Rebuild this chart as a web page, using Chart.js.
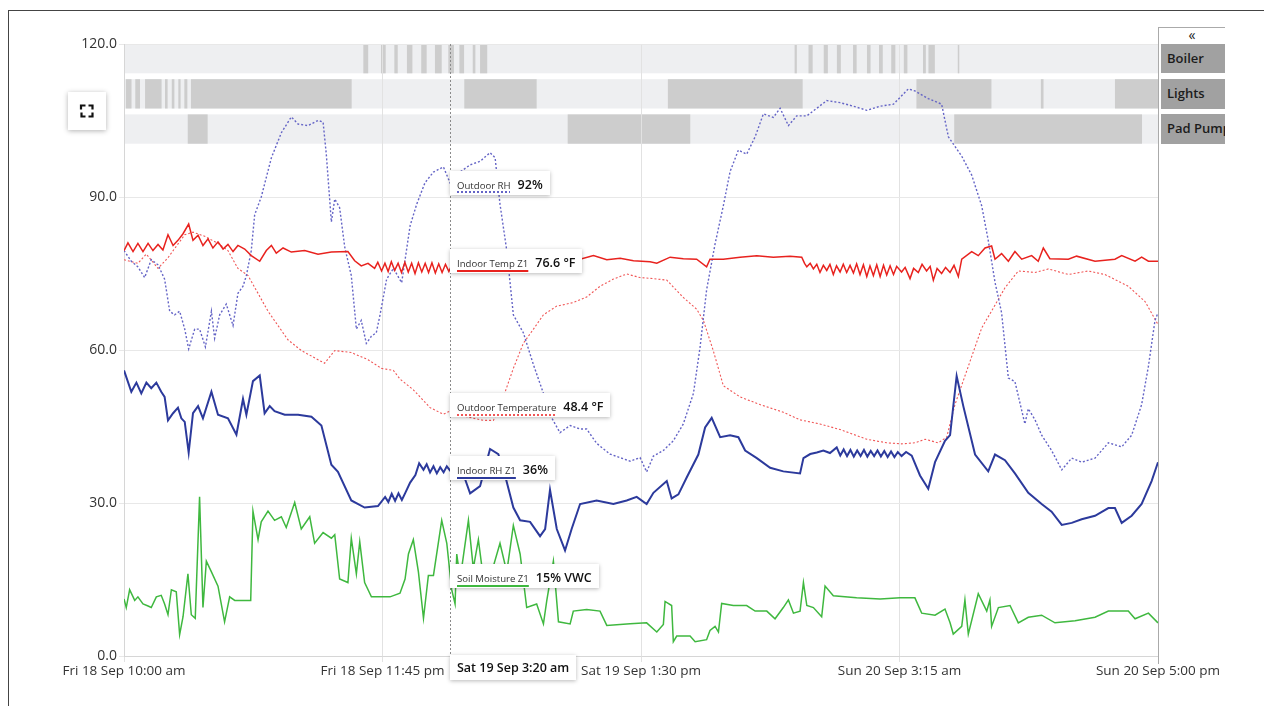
<!DOCTYPE html>
<html>
<head>
<meta charset="utf-8">
<script src="https://cdn.jsdelivr.net/npm/chart.js@4.4.0/dist/chart.umd.min.js"></script>
<style>
  html, body { margin: 0; padding: 0; background: #fff; width: 1264px; height: 706px; overflow: hidden; font-family: "Open Sans", sans-serif; }
  #frame { position: absolute; left: 8px; top: 10px; width: 1300px; height: 800px; border-left: 1px solid #444; border-top: 1px solid #444; }
  #chart { position: absolute; left: 0; top: 0; }
  .tip { position: absolute; background: #fff; box-shadow: 0 1px 4px rgba(0,0,0,0.28); height: 24px; line-height: 24px; padding: 0 7px 0 7px; white-space: nowrap; color: #111; }
  .tip .nm { font-size: 9.6px; color: #333; text-decoration-line: underline; text-decoration-thickness: 2px; text-underline-offset: 3px; margin-right: 7px; }
  .tip .val { font-size: 12.5px; font-weight: 600; }
  #timebox { position: absolute; background: #fff; box-shadow: 0 1px 4px rgba(0,0,0,0.28); height: 25px; line-height: 25px; padding: 0 7px; font-size: 12.5px; font-weight: 600; color: #111; white-space: nowrap; }
  #panel { position: absolute; left: 1158px; top: 27px; width: 66px; height: 636px; border-left: 1px solid #aaa; border-top: 1px solid #aaa; background: #fff; overflow: hidden; }
  #panel .hd { position: absolute; left: 0; top: 0; width: 66px; height: 16px; text-align: center; font-size: 14px; line-height: 13px; color: #222; }
  #panel .row { position: absolute; left: 2px; width: 64px; background: #a1a1a1; font-size: 13px; font-weight: 600; color: #1c1c1c; padding-left: 6px; box-sizing: border-box; white-space: nowrap; overflow: hidden; }
  #expand { position: absolute; left: 68px; top: 92px; width: 38px; height: 38px; background: #fff; box-shadow: 0 1px 5px rgba(0,0,0,0.3); }
</style>
</head>
<body>
<div id="frame"></div>
<canvas id="chart" width="1264" height="706"></canvas>
<div id="expand"><svg width="38" height="38"><path d="M13 17.5V13.5H17.5M20.5 13.5H24.5V17.5M24.5 20.5V24.5H20.5M17.5 24.5H13.5V20.5" fill="none" stroke="#111" stroke-width="2.2"/></svg></div>
<div id="panel"><div class="hd">«</div></div>
<script>
// time axis in hours after Fri 18 Sep 10:00 am
const tickHours = [0, 13.75, 27.5, 41.25, 55];
const tickLabels = ["Fri 18 Sep 10:00 am", "Fri 18 Sep 11:45 pm", "Sat 19 Sep 1:30 pm", "Sun 20 Sep 3:15 am", "Sun 20 Sep 5:00 pm"];

const indoorTemp = [[0,79.5],[0.21,81],[0.48,79.3],[0.74,80.9],[1.01,79.3],[1.28,80.9],[1.54,79.5],[1.81,80.7],[2.07,79.6],[2.34,82.6],[2.61,80.5],[2.87,81.5],[3.14,82.8],[3.44,84.7],[3.67,81.5],[3.94,82.5],[4.2,80.5],[4.47,81.8],[4.73,80],[5.0,81.2],[5.27,79.8],[5.53,80.7],[5.8,79.3],[6.06,80.5],[6.42,79.8],[6.77,78.5],[7.22,77.4],[7.57,79.5],[7.84,80.5],[8.1,79],[8.46,80],[8.9,79.2],[9.61,79.5],[10.32,78.8],[11.03,79.2],[11.91,79.3],[12.27,77.5],[12.62,76.5],[12.98,77],
  [13.33,76],[13.5,77.2],[13.7,75.5],[13.88,77],[14.05,75.4],[14.22,77.3],[14.4,75.6],[14.58,77],[14.76,75.2],[14.94,77.2],[15.12,75.3],[15.3,77],[15.48,75],[15.66,77.1],[15.84,75.3],[16.02,77],[16.2,75.2],[16.38,77.1],[16.56,75.1],[16.74,76.9],[16.92,75.2],[17.1,76.8],[17.28,75.4],[17.43,76.6],
  [18.94,77],[20.71,77.5],[21.95,77.8],[22.84,77.6],[23.55,78],[24.26,77.8],[24.97,78.5],[25.68,77.7],[26.39,78],[27.1,77.5],[27.98,77.3],
  [28.34,77],[29.05,78.2],[29.75,77.9],[30.46,77.8],[30.99,76.3],[31.17,77.8],[31.88,77.8],[32.77,78.2],[33.66,78.5],[34.54,78.2],[35.43,78.4],
  [36.05,78.2],[36.2,77],[36.32,76.3],[36.5,77],[36.67,75.9],[36.85,76.8],[37.02,75.2],[37.2,76.6],[37.38,75.6],[37.55,76.8],[37.73,74.8],[37.9,76.5],[38.09,75.3],[38.26,76.8],[38.44,75.2],[38.62,76.6],[38.8,75.1],[38.97,76.9],[39.15,74.8],[39.33,76.7],[39.51,74.4],[39.68,76.5],[39.86,74.6],[40.04,76.7],[40.22,74.4],[40.4,76.6],[40.57,74.7],[40.75,76.5],[40.93,74.8],[41.1,76.4],[41.36,75.3],[41.55,76.2],[41.81,74],[42.0,76],[42.25,75.2],[42.45,76.8],[42.69,75.5],[42.88,76.4],[43.05,73.7],[43.25,76],[43.49,75],[43.7,76.2],[43.94,75.2],[44.15,76.6],[44.38,74.4],
  [44.56,77.8],[45.09,79.3],[45.44,78.5],[45.8,80],[46.15,80.4],[46.33,77.8],[46.68,78.9],[47.04,77.4],[47.39,79.3],[47.75,77.8],[48.28,78.5],[48.63,77.4],[48.9,80],[49.25,77.9],[50.23,77.8],[50.67,78.4],[51.65,77.4],[52.71,77.8],[53.07,78.5],[53.78,77.4],[54.13,78.2],[54.49,77.4],[55,77.4]];

const outdoorTemp = [[0,77.7],[0.74,77],[1.19,78.8],[1.81,76],[2.34,78.1],[3.23,82.6],[3.67,83.1],[4.29,82.3],[5.0,80.9],[5.53,79.5],[6.06,76],[6.6,74.6],[7.13,71.1],[7.66,67.6],[8.19,64.8],[8.72,62],[9.43,59.9],[10.32,58.1],[10.67,57.4],[11.21,59.9],[12.09,59.5],[12.98,58.1],[13.69,56.4],[14.33,56],[14.68,54.3],[15.39,52.2],[16.28,48.7],[16.99,47.4],[17.43,48.2],[18.23,46.9],[19.12,46.2],[19.65,46.2],[20.18,50.8],[20.71,56.4],[21.24,61.3],[21.78,64.1],[22.31,66.9],[23.02,68.6],[23.9,69.3],[24.61,70.4],[25.32,72.5],[26.03,73.9],[26.74,74.9],[27.45,74.2],[28.16,74],[28.87,73.7],[29.75,70.3],[30.46,68],[30.82,65.8],[31.35,59.8],[31.88,53],[32.77,50.8],[33.83,49.3],[35.07,47.8],[35.96,46.3],[37.02,45.5],[38.09,44.4],[39.51,42.5],[40.57,41.8],[41.36,41.6],[42.07,41.8],[42.61,42.5],[43.31,41.8],[43.76,42.9],[44.2,49.3],[44.91,56.8],[45.62,64.3],[46.33,68.8],[46.86,72.2],[47.57,75.5],[48.46,75.2],[49.17,75.9],[50.23,74.8],[51.29,75.5],[52.18,74.8],[53.42,72.5],[54.31,69.5],[55,65]];

const outdoorRH = [[0,79.5],[0.39,77.4],[0.74,76.3],[1.1,74.2],[1.45,77.7],[1.81,76.7],[2.16,73.9],[2.43,67.6],[2.69,66.9],[2.96,67.6],[3.23,64.1],[3.44,60.2],[3.76,64.1],[4.02,64.1],[4.33,60.6],[4.65,67.6],[4.82,62.3],[5.09,66.9],[5.44,69],[5.8,64.8],[6.06,71.1],[6.33,72.5],[6.51,74.6],[6.77,79.5],[6.95,86.5],[7.3,90],[7.84,97.7],[8.37,102.6],[8.9,105.7],[9.26,104.3],[9.79,104],[10.32,105],[10.59,104.7],[10.76,98.4],[11.03,85.1],[11.21,89.6],[11.47,87.9],[11.74,80.2],[12.09,74.6],[12.36,64.1],[12.62,65.8],[12.89,61.3],[13.16,62.7],[13.42,63.4],[13.62,66.9],[13.97,73.9],[14.33,76],[14.77,73.2],[15.22,84.4],[15.57,88.6],[16.01,92.8],[16.46,94.9],[16.99,95.9],[17.34,92.8],[17.88,94.9],[18.41,96.3],[18.94,97],[19.47,98.7],[19.74,97.7],[20.0,88.6],[20.36,79.5],[20.71,66.9],[21.24,63.4],[21.78,57.1],[22.31,51.5],[22.66,47.3],[23.19,43.8],[23.73,45.2],[24.26,44.5],[24.61,44.5],[25.14,41.7],[25.85,39.6],[26.39,38.9],[26.92,38.2],[27.45,38.9],[27.8,36.1],[28.16,39.2],[28.69,40.3],[29.22,42.2],[29.75,45.5],[30.29,51.5],[30.64,60.5],[30.99,71.8],[31.44,80.8],[31.88,88.3],[32.24,95],[32.68,99.2],[33.12,98.4],[33.57,101.8],[34.01,106.3],[34.54,105.6],[34.9,107.4],[35.34,104],[35.78,105.9],[36.32,105.9],[36.85,107.4],[37.38,108.9],[38.09,108.5],[38.8,107.8],[39.51,107],[40.22,107.8],[40.93,108.2],[41.72,111.2],[42.07,110.8],[42.78,109.3],[43.49,108.2],[43.85,101.8],[44.56,98],[45.09,94.3],[45.62,88.3],[45.97,81.5],[46.33,73.3],[46.68,67.3],[47.04,54.5],[47.39,53.8],[47.92,45.5],[48.1,48.5],[48.46,46.3],[48.81,43.3],[49.34,40.3],[49.88,36.5],[50.41,38.8],[50.94,38],[51.65,38.8],[52.36,41.8],[53.07,41],[53.6,43.3],[54.13,49.3],[54.49,56.8],[54.84,65.8],[55,67.3]];

const indoorRH = [[0,56],[0.39,51.8],[0.66,53.6],[0.92,51.5],[1.19,53.6],[1.45,52.5],[1.72,53.6],[1.98,51.8],[2.16,50.8],[2.34,46.2],[2.61,47.6],[2.87,48.7],[3.05,46.6],[3.23,45.9],[3.44,39.9],[3.67,47.6],[3.94,49],[4.2,46.6],[4.65,51.8],[5.0,47.3],[5.53,46.6],[5.98,43.4],[6.33,50.4],[6.51,47.3],[6.86,53.9],[7.22,55],[7.48,47.6],[7.75,49],[8.01,48],[8.55,47.3],[9.26,47.3],[9.97,46.9],[10.5,45.2],[11.03,37.5],[11.38,36.1],[12.09,30.5],[12.8,29.1],[13.51,29.4],
  [13.89,31.2],[14.06,30.2],[14.24,31.8],[14.42,30.4],[14.6,31.9],[14.78,30.6],[14.95,31.9],[15.22,34],[15.5,35.5],[15.7,37.8],[15.93,36.5],[16.1,37.6],[16.28,36],[16.46,37.2],[16.64,35.8],[16.82,37],[17.0,36],[17.17,37.2],[17.34,36.4],
  [17.88,37.5],[18.14,34.7],[18.41,31.9],[18.94,33.3],[19.47,40.6],[19.91,39.6],[20.27,35.4],[20.71,29.1],[21.07,26.6],[21.6,26.3],[22.13,23.5],[22.4,24.9],[22.66,32.6],[23.02,24.9],[23.46,20.7],[23.81,24.9],[24.26,29.8],[25.14,30.5],[26.03,29.8],[26.74,30.5],[27.27,31.2],[27.8,29.8],[28.16,32],[28.87,34.3],[29.13,30.9],[29.49,31.7],[29.93,35],[30.55,39.5],[30.91,44.8],[31.26,46.7],[31.71,42.9],[32.24,43.3],[32.68,42.9],[33.04,40.3],[33.66,38.8],[34.37,36.9],[35.07,36.2],[35.96,35.8],
  [36.14,38.8],[36.5,39.6],[36.85,39.9],[37.2,40.3],[37.55,39.8],[37.91,40.9],[38.1,39.3],[38.28,40.5],[38.46,39.2],[38.64,40.4],[38.82,39.1],[39.0,40.3],[39.18,39.2],[39.36,40.4],[39.54,39.1],[39.72,40.2],[39.9,39.2],[40.08,40.3],[40.26,39.1],[40.44,40.2],[40.62,39],[40.8,40.1],[40.98,39],[41.16,40],[41.36,39.2],[41.6,40],[41.9,39.3],
  [42.34,35.4],[42.78,32.8],[43.14,38],[43.67,42.2],[43.94,43.3],[44.29,54.9],[44.65,48.9],[45.27,39.5],[45.97,36.2],[46.33,39.5],[46.86,38.4],[47.39,35.8],[48.1,32],[48.81,29.8],[49.34,28.3],[49.88,25.7],[50.41,26.1],[50.94,26.8],[51.65,27.5],[52.36,29],[52.71,29],[53.07,26.1],[53.6,27.5],[54.13,29.8],[54.66,34.3],[55,38]];

const soilMoisture = [[0,11.2],[0.12,9.5],[0.3,13],[0.57,10.9],[0.74,11.6],[1.01,10.2],[1.28,9.8],[1.45,9.5],[1.72,11.6],[1.98,11.9],[2.16,10.2],[2.34,8.1],[2.52,13],[2.78,12.6],[2.96,4.2],[3.14,7.7],[3.4,16.1],[3.58,8.1],[3.79,7.4],[4.02,31.2],[4.2,9.5],[4.38,18.6],[4.65,16.5],[5.0,13.7],[5.35,6.7],[5.62,11.6],[5.89,10.9],[6.74,10.9],[6.86,28.4],[7.13,22.8],[7.3,26.3],[7.66,28.4],[8.01,26.6],[8.37,27.3],[8.63,25.2],[9.08,30.1],[9.43,24.9],[9.88,27.3],[10.14,22.1],[10.59,24.2],[11.03,23.1],[11.21,23.8],[11.47,15.1],[11.91,14.4],[12.09,23.1],[12.36,16.1],[12.54,22.4],[12.8,14.4],[13.16,11.6],[13.69,11.6],[14.15,11.6],[14.68,12.3],[14.95,15.1],[15.13,20],[15.39,22.8],[15.66,16.5],[15.93,7.4],[16.19,15.8],[16.46,15.8],[16.9,26.6],[17.17,22.1],[17.43,13],[17.61,10.2],[17.7,20],[17.88,15.1],[18.32,26.6],[18.58,17.2],[18.85,22.8],[19.12,15.1],[19.56,16.5],[20.0,22.1],[20.36,16.5],[20.71,25.6],[21.07,20],[21.42,9.5],[21.95,10.2],[22.31,6.3],[22.49,10.9],[22.84,18.6],[23.11,6.7],[23.73,6.3],[23.9,8.8],[24.61,9.1],[25.32,8.8],[25.68,6],[26.92,6.3],[27.8,6.5],[28.34,4.7],[28.69,6.2],[28.78,10.7],[29.13,9.9],[29.22,2.8],[29.4,3.9],[30.11,3.9],[30.38,2.8],[30.99,3.2],[31.17,5],[31.44,5.8],[31.62,4.7],[31.79,10.3],[32.41,9.9],[33.12,9.9],[33.57,8.8],[34.19,8.8],[34.63,7.3],[35.07,9.5],[35.34,11],[35.61,8.4],[35.96,8.8],[36.14,14.4],[36.32,9.9],[36.67,9.5],[37.11,7.7],[37.29,13.7],[37.73,11.8],[38.97,11.4],[40.22,11.2],[41.28,11.4],[42.07,11.4],[42.43,8.4],[43.14,8],[43.67,9.2],[43.94,6.5],[44.11,4.3],[44.56,5.8],[44.73,11],[44.91,4.3],[45.44,12.2],[45.89,8.8],[46.06,11],[46.15,5.8],[46.51,9.5],[47.13,9.9],[47.57,6.5],[48.1,7.6],[48.81,8],[49.52,6.5],[50.59,6.9],[51.65,7.6],[52.36,8.8],[53.42,8.8],[53.78,7.3],[54.49,8.4],[55,6.5]];

// on/off periods (start hour, end hour)
const bandNames = ["Boiler", "Lights", "Pad Pump"];
const boilerOn = [[12.73,12.99],[13.67,13.92],[14.38,14.56],[15.05,15.34],[15.81,16.1],[16.54,16.9],[17.25,17.55],[17.84,18.09],[18.55,18.69],[18.94,19.32],[35.67,35.79],[36.41,36.63],[37.22,37.44],[37.92,38.13],[38.78,38.97],[39.52,39.71],[40.16,40.36],[40.81,41.03],[41.48,41.67],[42.5,42.65],[42.79,43.13],[44.35,44.42]];
const lightsOn = [[0.1,0.4],[0.6,0.85],[1.12,2.0],[2.18,2.32],[2.54,2.68],[2.89,3.01],[3.21,3.37],[3.56,12.11],[18.1,21.95],[28.93,36.1],[42.15,46.14],[48.77,48.91],[52.71,55]];
const padPumpOn = [[3.39,4.45],[23.6,30.12],[44.16,54.15]];

// cursor readout
const cursorHour = 17.333;
const cursorTime = "Sat 19 Sep 3:20 am";
const cursorNames = ["Outdoor RH", "Indoor Temp Z1", "Outdoor Temperature", "Indoor RH Z1", "Soil Moisture Z1"];
const cursorValues = [92, 76.6, 48.4, 36, 15];
const cursorUnits = ["%", " °F", " °F", "%", "% VWC"];

const bandOn = [boilerOn, lightsOn, padPumpOn];
const rowTop = [120, 113.1, 106.2];
const rowSpan = 5.75;

const lineStyles = {
  "Outdoor RH": { color: "#6464c6", width: 1.4, dash: [2, 2] },
  "Indoor Temp Z1": { color: "#e8221e", width: 1.5, dash: [] },
  "Outdoor Temperature": { color: "#f05656", width: 1.1, dash: [2, 2] },
  "Indoor RH Z1": { color: "#2c3a9c", width: 2, dash: [] },
  "Soil Moisture Z1": { color: "#3fb83f", width: 1.5, dash: [] }
};
const seriesData = {
  "Outdoor RH": outdoorRH,
  "Indoor Temp Z1": indoorTemp,
  "Outdoor Temperature": outdoorTemp,
  "Indoor RH Z1": indoorRH,
  "Soil Moisture Z1": soilMoisture
};

const bandPlugin = {
  id: "bands",
  beforeDraw(chart) {
    const { ctx, chartArea: a, scales: { x, y } } = chart;
    ctx.save();
    bandNames.forEach((name, i) => {
      const top = y.getPixelForValue(rowTop[i]);
      const bot = y.getPixelForValue(rowTop[i] - rowSpan);
      ctx.fillStyle = "#eeeff1";
      ctx.fillRect(a.left, top, a.right - a.left, bot - top);
      ctx.fillStyle = "#cdcdcd";
      bandOn[i].forEach(([s, e]) => {
        const x0 = x.getPixelForValue(s), x1 = x.getPixelForValue(e);
        ctx.fillRect(x0, top, Math.max(1.5, x1 - x0), bot - top);
      });
    });
    ctx.restore();
  }
};

const cursorPlugin = {
  id: "cursor",
  afterDatasetsDraw(chart) {
    const { ctx, chartArea: a, scales: { x } } = chart;
    const px = Math.round(x.getPixelForValue(cursorHour)) + 0.5;
    ctx.save();
    ctx.strokeStyle = "#8a8a8a";
    ctx.lineWidth = 1;
    ctx.setLineDash([2, 2]);
    ctx.beginPath();
    ctx.moveTo(px, a.top);
    ctx.lineTo(px, a.bottom + 4);
    ctx.stroke();
    ctx.restore();
  },
  afterRender(chart) {
    const { x, y } = chart.scales;
    const px = Math.round(x.getPixelForValue(cursorHour));
    document.querySelectorAll(".tip, #timebox").forEach(el => el.remove());
    cursorNames.forEach((name, i) => {
      const st = lineStyles[name];
      const tip = document.createElement("div");
      tip.className = "tip";
      tip.style.left = px + "px";
      tip.style.top = (y.getPixelForValue(cursorValues[i]) - 16) + "px";
      const nm = document.createElement("span");
      nm.className = "nm";
      nm.textContent = name;
      nm.style.textDecorationColor = st.color;
      nm.style.textDecorationStyle = st.dash.length ? "dotted" : "solid";
      const val = document.createElement("span");
      val.className = "val";
      val.textContent = cursorValues[i] + cursorUnits[i];
      tip.appendChild(nm);
      tip.appendChild(val);
      document.body.appendChild(tip);
    });
    const tb = document.createElement("div");
    tb.id = "timebox";
    tb.textContent = cursorTime;
    tb.style.left = px + "px";
    tb.style.top = (chart.chartArea.bottom - 1) + "px";
    document.body.appendChild(tb);

    const panel = document.getElementById("panel");
    panel.querySelectorAll(".row").forEach(el => el.remove());
    const panelTop = panel.getBoundingClientRect().top + 1;
    bandNames.forEach((name, i) => {
      const top = y.getPixelForValue(rowTop[i]);
      const bot = y.getPixelForValue(rowTop[i] - rowSpan);
      const r = document.createElement("div");
      r.className = "row";
      r.textContent = name;
      r.style.top = (top - panelTop) + "px";
      r.style.height = (bot - top) + "px";
      r.style.lineHeight = (bot - top) + "px";
      panel.appendChild(r);
    });
  }
};

const drawOrder = ["Indoor Temp Z1", "Outdoor RH", "Indoor RH Z1", "Soil Moisture Z1", "Outdoor Temperature"];

new Chart(document.getElementById("chart"), {
  type: "line",
  data: {
    datasets: drawOrder.map(name => ({
      label: name,
      data: seriesData[name].map(([h, v]) => ({ x: h, y: v })),
      borderColor: lineStyles[name].color,
      borderWidth: lineStyles[name].width,
      borderDash: lineStyles[name].dash,
      pointRadius: 0,
      tension: 0,
      fill: false
    }))
  },
  options: {
    responsive: false,
    animation: false,
    events: [],
    layout: { padding: { left: 0, right: 106, top: 44, bottom: 10 } },
    plugins: { legend: { display: false }, tooltip: { enabled: false } },
    scales: {
      x: {
        type: "linear",
        min: 0,
        max: 55,
        afterBuildTicks: s => { s.ticks = tickHours.map(v => ({ value: v })); },
        afterFit: s => { s.height = 40; },
        ticks: {
          autoSkip: false,
          maxRotation: 0,
          padding: 1,
          color: "#333",
          font: { family: "Open Sans", size: 13.5 },
          callback: v => tickLabels[tickHours.indexOf(v)]
        },
        grid: { color: "#e2e2e2", tickLength: 6 },
        border: { color: "#d6d6d6" }
      },
      y: {
        min: 0,
        max: 120,
        afterFit: s => { s.width = 124; },
        ticks: {
          stepSize: 30,
          padding: 2,
          color: "#333",
          font: { family: "Open Sans", size: 14 },
          callback: v => v.toFixed(1)
        },
        grid: { color: "#e8e8e8", tickLength: 5 },
        border: { color: "#d6d6d6" }
      }
    }
  },
  plugins: [bandPlugin, cursorPlugin]
});
</script>
</body>
</html>
